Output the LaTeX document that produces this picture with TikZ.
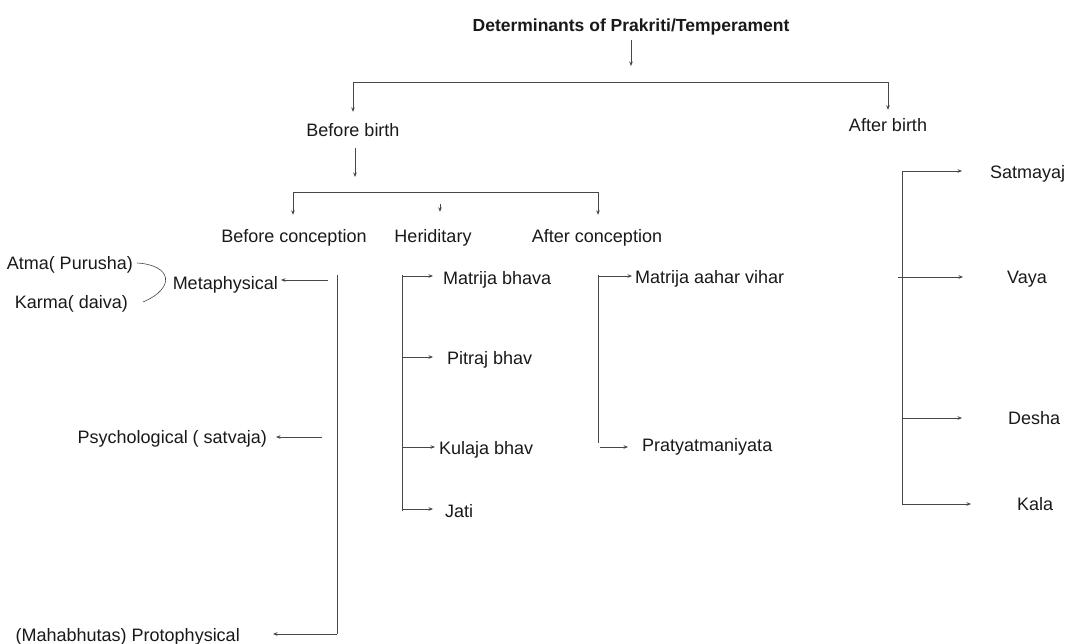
\documentclass[tikz,border=0pt]{standalone}
\usepackage{fontspec}
\setmainfont{Liberation Sans}
\usetikzlibrary{arrows.meta}
\begin{document}
\begin{tikzpicture}[x=1pt,y=-1pt,
  lbl/.style={inner sep=0pt, text height=15pt, text depth=2pt, font=\fontsize{18}{20}\selectfont, text=black!90},
  ttl/.style={lbl, font=\fontsize{17.5}{20}\selectfont\bfseries},
  ln/.style={draw=black!72, line width=0.85pt},
  arr/.style={ln, -{Stealth[length=4.5pt,width=3.6pt]}}]
\useasboundingbox (0,0) rectangle (1065,644);
% nodes
\node[ttl] (title) at (631,25) {Determinants of Prakriti/Temperament};
\node[lbl] (bb) at (353,130) {Before birth};
\node[lbl] (ab) at (888,125) {After birth};
\node[lbl] (bc) at (294,236) {Before conception};
\node[lbl] (her) at (433,236) {Heriditary};
\node[lbl] (ac) at (597,236) {After conception};
\node[lbl,anchor=east] (meta) at (278,283) {Metaphysical};
\node[lbl,anchor=east] (atma) at (133,263) {Atma( Purusha)};
\node[lbl,anchor=east] (karma) at (128,302) {Karma( daiva)};
\node[lbl,anchor=east] (psy) at (267,437) {Psychological ( satvaja)};
\node[lbl,anchor=east] (proto) at (240,635) {(Mahabhutas) Protophysical};
\node[lbl,anchor=west] (mb) at (443,278) {Matrija bhava};
\node[lbl,anchor=west] (pb) at (447,358) {Pitraj bhav};
\node[lbl,anchor=west] (kb) at (439,448) {Kulaja bhav};
\node[lbl,anchor=west] (jati) at (445,511) {Jati};
\node[lbl,anchor=west] (mav) at (635,277) {Matrija aahar vihar};
\node[lbl,anchor=west] (pra) at (642,445) {Pratyatmaniyata};
\node[lbl,anchor=west] (sat) at (990,172) {Satmayaj};
\node[lbl,anchor=west] (vaya) at (1007,277) {Vaya};
\node[lbl,anchor=west] (desha) at (1008,418) {Desha};
\node[lbl,anchor=west] (kala) at (1017,504) {Kala};
% junction coordinates
\coordinate (j0) at (631,82);
\coordinate (hL) at (353,82);
\coordinate (hR) at (888,82);
\coordinate (h2m) at (355,192);
\coordinate (h2L) at (293,192);
\coordinate (h2H) at (440,192);
\coordinate (h2R) at (598,192);
\coordinate (s1t) at (337,275);
\coordinate (s1b) at (337,634);
\coordinate (m0) at (328,280);
\coordinate (p0) at (322,437);
\coordinate (s2t) at (402,275);
\coordinate (s2b) at (402,511);
\coordinate (q1) at (402,276);
\coordinate (q2) at (402,357);
\coordinate (q3) at (402,447);
\coordinate (q4) at (402,509);
\coordinate (s3t) at (598,275);
\coordinate (s3b) at (598,443);
\coordinate (r1) at (598,276);
\coordinate (r2) at (600,447);
\coordinate (s4t) at (902,171);
\coordinate (s4b) at (902,504);
\coordinate (v2) at (898,277);
\coordinate (v3) at (902,418);
% level 1
\draw[arr, shorten <=6.5pt, shorten >=16pt] (title.south) -- (title.south |- j0);
\draw[ln] (hL) -- (hR);
\draw[arr, shorten >=9.5pt] (hL) -- (hL |- bb.north);
\draw[arr, shorten >=6.5pt] (hR) -- (hR |- ab.north);
% level 2
\draw[arr, shorten <=9.5pt, shorten >=15pt] (bb.south -| h2m) -- (h2m);
\draw[ln] (h2L) -- (h2R);
\draw[arr, shorten >=12.5pt] (h2L) -- (h2L |- bc.north);
\draw[arr, shorten <=12pt, shorten >=15.5pt] (h2H) -- (h2H |- her.north);
\draw[arr, shorten >=12.5pt] (h2R) -- (h2R |- ac.north);
% before conception
\draw[ln] (s1t) -- (s1b);
\draw[arr, shorten >=3pt] (m0) -- (m0 -| meta.east);
\draw[arr, shorten >=9pt] (p0) -- (p0 -| psy.east);
\draw[arr, shorten >=33pt] (s1b) -- (s1b -| proto.east);
\draw[ln, line width=0.6pt] ([xshift=4pt]atma.east) .. controls (172,265) and (176,288) .. ([xshift=15pt]karma.east);
% heriditary
\draw[ln] (s2t) -- (s2b);
\draw[arr, shorten >=10pt] (q1) -- (q1 -| mb.west);
\draw[arr, shorten >=14pt] (q2) -- (q2 -| pb.west);
\draw[arr, shorten >=4pt] (q3) -- (q3 -| kb.west);
\draw[arr, shorten >=12pt] (q4) -- (q4 -| jati.west);
% after conception
\draw[ln] (s3t) -- (s3b);
\draw[arr, shorten >=3pt] (r1) -- (r1 -| mav.west);
\draw[arr, shorten >=14pt] (r2) -- (r2 -| pra.west);
% after birth
\draw[ln] (s4t) -- (s4b);
\draw[arr, shorten >=28pt] (s4t) -- (s4t -| sat.west);
\draw[arr, shorten >=44pt] (v2) -- (v2 -| vaya.west);
\draw[arr, shorten >=46pt] (v3) -- (v3 -| desha.west);
\draw[arr, shorten >=46pt] (s4b) -- (s4b -| kala.west);
\end{tikzpicture}
\end{document}
